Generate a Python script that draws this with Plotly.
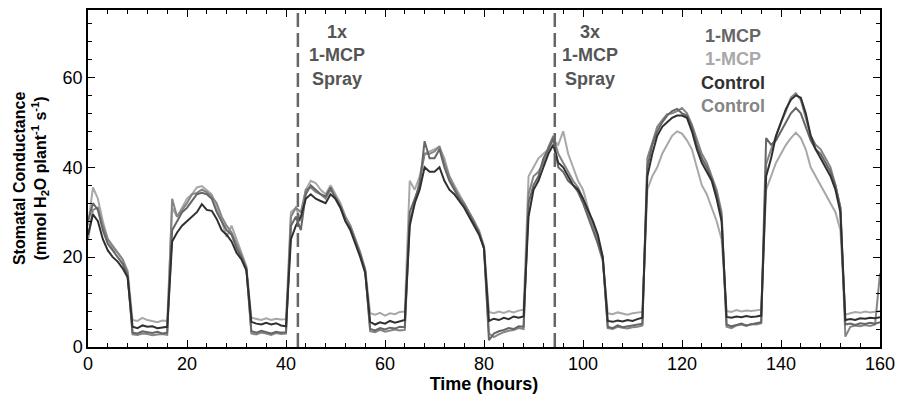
import plotly.graph_objects as go

# Time in hours (hourly readings)
hours = list(range(0, 161))

# Stomatal conductance (mmol H2O plant^-1 s^-1)
mcp_dark = [
    28, 32, 30.5, 26, 23, 21.5, 20, 18.5, 16,
    3.2, 3.0, 3.5, 3.3, 3.1, 3.4, 3.0, 3.2,
    26, 28, 30, 31, 32.5, 34, 34.3, 34, 33, 30, 28, 26, 25, 22, 20, 17.5,
    3.5, 3.2, 3.6, 3.3, 3.0, 3.4, 3.2, 3.3,
    27, 29, 26, 34, 36, 35, 34, 33.5, 35.5, 33, 31, 28, 26.5, 23.5, 20.5, 17,
    4.0, 3.7, 4.2, 3.9, 4.3, 4.1, 4.5, 4.4,
    30, 33, 36, 45.8, 42, 42, 44, 40, 37, 35, 33, 31.5, 29.5, 27.5, 25.5, 22,
    1.5, 3.0, 3.5, 3.8, 4.2, 4.0, 4.6, 4.5,
    32, 36, 38, 42, 44, 46.5, 40, 39, 37, 36, 34.5, 32, 29, 26, 23, 19.5,
    4.5, 4.2, 4.8, 4.4, 4.6, 4.7, 5.0, 5.2,
    40, 45, 48, 50, 51.5, 52.5, 53, 52, 51.5, 49, 45, 42, 40, 37.5, 34, 29,
    5.0, 4.6, 4.9, 5.2, 4.8, 5.1, 5.3, 5.5,
    46.5, 45, 46, 48, 50, 52, 53.2, 52, 49, 46, 44, 43, 41, 39, 36, 31,
    5.0, 5.2, 4.9, 5.3, 5.1, 5.4, 5.2, 5.5,
]
mcp_light = [
    27, 35.5, 33, 28, 24, 22, 21, 19.5, 17,
    6.0, 5.8, 6.5, 6.0, 5.8, 5.5, 5.9, 5.8,
    31, 29, 31, 33, 34, 35.5, 35.8, 35, 34, 31, 28, 24.5, 27, 24, 21, 18,
    6.5, 6.2, 6.0, 6.4, 6.0, 6.3, 6.1, 6.2,
    30, 31, 28, 35, 37, 36.5, 35, 34, 36, 34, 32, 29, 27, 24, 21, 17.5,
    7.5, 7.2, 7.6, 7.0, 7.5, 7.3, 7.8, 7.9,
    37, 35, 38, 43, 43.5, 44, 44.5, 42, 38, 36, 34, 32, 30, 28, 26, 22.5,
    7.8, 7.5, 7.9, 7.6, 8.0, 7.7, 8.1, 8.3,
    38, 40, 42, 43, 44, 46, 45, 48, 43, 40, 37, 35, 31, 27, 23, 19,
    7.5, 7.3, 7.7, 7.4, 7.2, 7.5, 7.6, 7.8,
    35, 38, 40, 43, 45, 47, 48, 47.5, 46, 44, 40, 36, 34, 31, 28, 24,
    8.0, 7.8, 8.2, 7.9, 8.1, 8.0, 8.2, 8.3,
    35, 38, 41, 43, 45, 46.5, 47.7, 46.5, 44, 40, 38, 36, 34, 32, 30, 26,
    7.2, 7.5, 7.8, 7.6, 7.9, 7.7, 7.8, 8.0,
]
control_dark = [
    25, 29.5, 28, 24, 21.5, 20, 19, 17.5, 15.5,
    4.5, 4.2, 4.8, 4.5, 4.6, 4.2, 4.4, 4.5,
    23.5, 25.5, 27, 28, 29, 30, 31.8, 30.5, 30.3, 28.5, 26, 25, 23.5, 21, 19.5, 17,
    5.6, 5.2, 5.0, 5.4, 5.0, 5.3, 4.8, 4.6,
    24, 27, 29, 33, 34, 33, 32.5, 32, 34, 33, 31, 28, 26, 23, 20, 16.5,
    5.6, 5.0, 5.5, 5.2, 5.8, 5.4, 5.7, 6.0,
    27, 32, 35, 40, 39, 39, 40, 37, 35, 34, 32.5, 31, 29, 27, 25, 22,
    5.8, 6.3, 6.0, 6.5, 6.2, 6.8, 6.5, 6.8,
    29, 35, 37, 40, 43, 45, 41, 40, 38, 36, 35, 33, 30.5, 28, 25, 20,
    5.8, 5.6, 5.9, 5.7, 6.0, 5.8, 6.2, 6.5,
    38, 43, 47, 49, 50, 51, 51.5, 51.5, 51, 48, 44, 41, 39, 37, 33, 28,
    6.7, 6.5, 6.8, 6.6, 6.9, 6.7, 6.8, 7.0,
    38, 42, 47, 50, 53, 55, 56, 55.5, 52, 47, 44, 42, 40, 38, 35, 30,
    6.0, 6.2, 6.0, 6.4, 6.3, 6.5, 6.4, 6.6,
]
control_grey = [
    24, 30.5, 31, 27, 24, 22.5, 21, 19.5, 16.5,
    2.8, 2.7, 3.0, 2.9, 2.6, 2.8, 2.9, 2.7,
    33, 29, 30.5, 32, 34, 34.3, 35, 34.5, 33.5, 32, 29, 27, 25.5, 23, 20.5, 17.5,
    3.0, 2.8, 3.2, 3.0, 2.7, 3.1, 2.9, 3.0,
    29, 31, 30, 35, 35.5, 34.5, 34, 33, 35, 33.5, 31.5, 29, 27, 24, 21, 17,
    3.5, 3.3, 3.8, 3.4, 3.6, 3.9, 3.7, 3.8,
    28, 32, 37, 43, 43, 43.5, 44.7, 41, 38, 35.5, 33.5, 32, 30, 28, 25.5, 22,
    3.0, 2.2, 2.8, 3.3, 3.6, 3.8, 4.2, 4.0,
    34, 38, 39, 41, 44.5, 47, 43, 41, 39, 37, 35.5, 33, 30, 27, 24, 20,
    4.2, 4.0, 4.5, 4.3, 4.1, 4.4, 4.5, 4.8,
    42, 45.5, 49, 50.5, 51.8, 52, 52.5, 53.2, 52, 49.5, 46, 43, 41, 38, 35, 30,
    4.5, 4.2, 4.8, 5.0, 4.7, 5.1, 5.0, 5.3,
    40.7, 44, 47, 50, 52.5, 55.5, 56.5, 55, 51, 47, 45, 44, 42, 40, 36, 31,
    2.3, 4.5, 4.8, 4.6, 4.9, 4.7, 5.0, 16.4,
]

spray_times = [42.4, 94.3]
spray_labels = ["1x<br>1-MCP<br>Spray", "3x<br>1-MCP<br>Spray"]
series_names = ["1-MCP", "1-MCP", "Control", "Control"]
series_colors = ["#666666", "#a8a8a8", "#303030", "#858585"]
series_values = [mcp_dark, mcp_light, control_dark, control_grey]

FONT = "Arial, Liberation Sans, sans-serif"

fig = go.Figure()
for idx in [1, 3, 0, 2]:
    fig.add_trace(go.Scatter(
        x=hours, y=series_values[idx], mode="lines", name=series_names[idx],
        line=dict(color=series_colors[idx], width=2),
        showlegend=False,
    ))

for t in spray_times:
    fig.add_vline(x=t, line=dict(color="#666666", width=2.5, dash="14px,6px"))

label_offsets = [8.0, 7.2]
for t, lab, off in zip(spray_times, spray_labels, label_offsets):
    fig.add_annotation(x=t + off, y=72.7, xref="x", yref="y", text="<b>" + lab + "</b>",
                       showarrow=False, yanchor="top", xanchor="center",
                       font=dict(family=FONT, size=18, color="#555555"))

legend_text = "<br>".join(
    f"<span style='color:{c}'>{n}</span>" for n, c in zip(series_names, series_colors)
)
fig.add_annotation(x=130.3, y=71.8, xref="x", yref="y", text="<b>" + legend_text + "</b>",
                   showarrow=False, yanchor="top", xanchor="center",
                   font=dict(family=FONT, size=18))

# y-axis title placed as rotated text to the left of the axis
fig.add_annotation(x=-0.0725, y=0.5, xref="paper", yref="paper",
                   text="<b>Stomatal Conductance<br>(mmol H<sub>2</sub>O plant<sup>-1</sup> s<sup>-1</sup>)</b>",
                   textangle=-90, showarrow=False, xanchor="center", yanchor="middle",
                   font=dict(family=FONT, size=16, color="black"))

axis_common = dict(
    showline=True, linecolor="black", linewidth=1.5, mirror="ticks",
    ticks="inside", ticklen=7, tickwidth=1.2, tickcolor="black",
    showgrid=False, zeroline=False, automargin=False,
    tickfont=dict(family=FONT, size=18, color="black"),
)

fig.update_xaxes(range=[0, 160], dtick=20, tick0=0,
                 minor=dict(dtick=4, ticks="inside", ticklen=4, tickcolor="black"),
                 title=dict(text="<b>Time (hours)</b>", font=dict(family=FONT, size=18, color="black"), standoff=3),
                 **axis_common)
fig.update_yaxes(range=[0, 75], dtick=20, tick0=0,
                 minor=dict(dtick=4, ticks="inside", ticklen=4, tickcolor="black"),
                 **axis_common)

fig.update_layout(
    width=901, height=402,
    margin=dict(l=88, r=21, t=10, b=55),
    plot_bgcolor="white", paper_bgcolor="white",
    font=dict(family=FONT),
)

fig.write_html("out.html", config={"displayModeBar": False},
               post_script="document.body.style.margin='0';")
